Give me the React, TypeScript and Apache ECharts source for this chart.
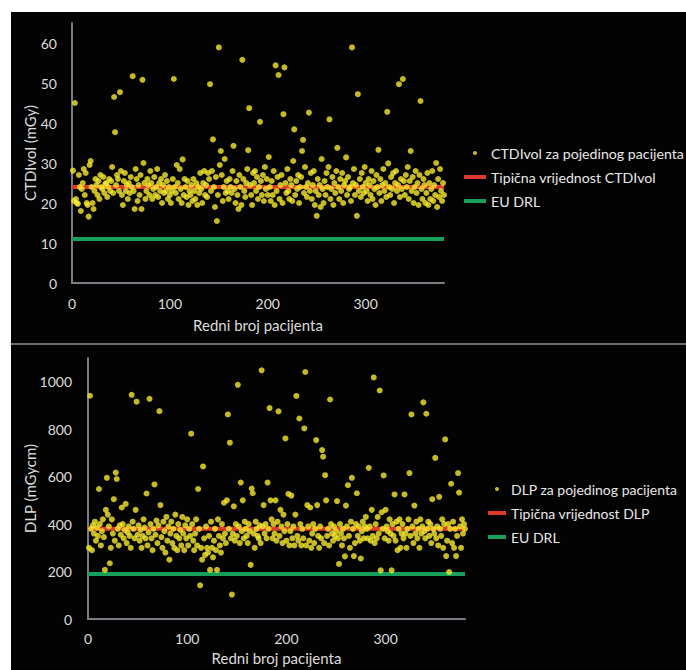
import React, { useEffect, useRef } from "react";
import * as echarts from "echarts";

// CTDIvol per patient (mGy), patient 1..380
const ctdiValues = [
  28.1, 20.5, 45, 21, 20, 19.8, 27, 24, 18, 23.5, 25, 28.5, 22, 27.5, 20, 19.5, 16.6, 29.5, 30.5, 24,
  20, 18.5, 23, 26, 24.5, 22, 25.5, 21, 27, 24, 23.5, 26.5, 22.5, 24.8, 25, 21.5, 24, 26, 23, 25.5,
  29, 22.5, 46.5, 37.7, 24.5, 27, 26, 23, 47.7, 28, 22, 19.5, 25.5, 27.5, 23, 24.5, 21, 25, 22.5, 26.5,
  24, 51.7, 23, 18.5, 28.5, 26, 20.5, 24.5, 22, 27, 18.5, 50.8, 30, 25, 21, 23, 26, 24.5, 22, 28,
  25, 21, 23.5, 26.5, 22, 24, 28.5, 21.5, 25, 23, 26, 20, 24.5, 22.5, 27, 23, 25.5, 21, 24, 22,
  20, 23, 26, 51, 24, 22.5, 29.5, 25, 21, 28.5, 23.5, 20, 30.9, 22, 26, 24, 21.5, 25.5, 19.5, 23,
  22, 24.5, 20.5, 26, 23, 21, 25, 19.5, 24, 22.5, 27.5, 23.5, 20, 25, 28, 22, 24.5, 21.5, 27.5, 26,
  49.7, 23, 28, 35.9, 24, 19, 26.5, 15.5, 22, 58.9, 29.5, 33, 27, 20.5, 24, 31, 22.5, 25.5, 23, 21,
  26, 24, 22.5, 28, 34.3, 23.5, 20, 25.5, 22, 18.5, 27, 24, 19.5, 55.8, 26, 23, 21.5, 25, 28.5, 33.2,
  43.7, 24.5, 22, 19.5, 27.5, 25, 28, 23, 26.5, 21, 24, 40.3, 25.5, 22, 27, 20.5, 29, 23.5, 26, 22,
  31.5, 24, 20.5, 25.5, 22, 28, 19.5, 54.4, 23, 26.5, 52, 21, 24.5, 27, 20, 42.2, 53.9, 25, 22.5, 28.5,
  23, 21, 26, 24.5, 20.5, 30.5, 38.4, 22, 25.5, 23.5, 27, 20, 24, 26.5, 33, 35.8, 22.5, 29, 24, 21.5,
  25, 42.6, 23, 27.5, 21, 24.5, 28, 19.5, 23, 16.8, 26, 22, 24.5, 19, 31, 23.5, 20, 25.5, 22, 27.5,
  24, 29, 40.9, 21, 23.5, 26.5, 19.5, 25, 22.5, 28, 33.8, 24, 21, 26, 23, 27.5, 20, 24.5, 25.5, 31.4,
  22, 26.5, 23.5, 24, 20.5, 58.9, 25, 28.5, 22, 24.5, 16.8, 47.2, 23, 26, 21.5, 27.5, 24, 22.5, 29, 25,
  23, 20.5, 26, 24.5, 22, 28, 21, 25.5, 23.5, 19.5, 27, 24, 33.3, 22.5, 26, 20.5, 24.5, 28.5, 23, 25,
  21.5, 42.8, 29.9, 24, 22, 26.5, 23.5, 27.5, 20, 25, 28, 23, 24.5, 49.7, 21.5, 26, 23.5, 51, 25.5, 22,
  27, 24, 29, 21, 25.5, 33, 23, 26.5, 20, 24, 28, 22.5, 25, 19.5, 27, 45.5, 23.5, 21, 26, 24.5,
  20, 22.5, 27.5, 19.5, 25, 21, 23.5, 28, 20.5, 24.5, 22, 30, 19, 26, 21.5, 28.5, 23, 20.5, 25, 22,
];

// DLP per patient (mGycm), patient 1..380
const dlpValues = [
  300, 941, 380, 290, 395, 360, 410, 330, 385, 350, 548, 400, 310, 370, 420, 345, 207, 460, 595, 440,
  390, 235, 300, 420, 360, 505, 330, 617, 590, 380, 310, 395, 355, 470, 400, 340, 375, 485, 320, 365,
  390, 350, 300, 945, 410, 380, 340, 460, 916, 355, 395, 330, 375, 300, 350, 420, 385, 340, 529, 310,
  365, 928, 400, 340, 290, 380, 567, 355, 415, 320, 395, 876, 480, 345, 300, 410, 370, 280, 430, 330,
  390, 250, 360, 410, 320, 380, 300, 440, 350, 290, 400, 340, 375, 310, 430, 360, 290, 395, 340, 420,
  310, 380, 350, 781, 400, 330, 290, 360, 420, 310, 548, 380, 142, 300, 250, 643, 340, 270, 390, 300,
  280, 350, 207, 410, 300, 260, 330, 380, 290, 207, 420, 350, 310, 280, 400, 340, 490, 360, 320, 500,
  862, 380, 743, 340, 103, 360, 475, 330, 400, 350, 987, 390, 320, 575, 370, 500, 340, 410, 380, 350,
  320, 400, 370, 228, 550, 530, 360, 300, 410, 380, 350, 340, 395, 320, 1048, 390, 480, 360, 400, 340,
  575, 380, 889, 500, 420, 340, 400, 360, 500, 330, 410, 875, 350, 460, 390, 320, 440, 370, 761, 330,
  400, 527, 310, 370, 520, 340, 390, 310, 440, 940, 350, 330, 845, 400, 310, 380, 340, 803, 1041, 310,
  480, 390, 330, 470, 300, 360, 400, 320, 380, 754, 480, 350, 300, 390, 340, 712, 684, 320, 606, 500,
  350, 380, 310, 925, 400, 360, 330, 390, 350, 370, 497, 340, 232, 400, 360, 310, 380, 340, 264, 478,
  390, 564, 350, 300, 410, 595, 380, 265, 320, 400, 530, 350, 390, 330, 255, 370, 410, 340, 390, 430,
  380, 340, 637, 390, 330, 460, 350, 1018, 320, 400, 340, 430, 360, 963, 205, 450, 380, 605, 340, 460,
  390, 370, 330, 420, 360, 205, 400, 350, 525, 330, 410, 290, 380, 420, 300, 360, 400, 340, 525, 360,
  300, 380, 420, 615, 350, 862, 390, 320, 478, 360, 410, 340, 380, 300, 420, 360, 390, 913, 370, 340,
  865, 380, 410, 350, 400, 320, 505, 380, 360, 679, 340, 390, 310, 515, 380, 350, 420, 300, 400, 757,
  265, 330, 400, 198, 380, 570, 320, 410, 300, 380, 265, 350, 615, 533, 390, 300, 420, 360, 400, 380,
];

const ctdiTypical = 24;
const ctdiEuDrl = 11;
const dlpTypical = 380;
const dlpEuDrl = 190;
const xRange = [0, 380];

const ctdiNames = ["CTDIvol za pojedinog pacijenta", "Tipična vrijednost CTDIvol", "EU DRL"];
const dlpNames = ["DLP za pojedinog pacijenta", "Tipična vrijednost DLP", "EU DRL"];
const xAxisTitle = "Redni broj pacijenta";
const ctdiAxisTitle = "CTDIvol (mGy)";
const dlpAxisTitle = "DLP (mGycm)";

const YELLOW = "#f7ea2e";
const RED = "#dd3a2c";
const GREEN = "#16a05a";
const AXIS = "#7a7d84";
const TXT = "#dcdcdc";
const FONT = "Lato";

export default function App() {
  const ref = useRef<HTMLDivElement>(null);
  useEffect(() => {
    if (!ref.current) return;
    const chart = echarts.init(ref.current, null, { renderer: "svg" });

    const xAxisBase = (gridIndex: number, nameGap: number, margin: number) => ({
      type: "value",
      gridIndex,
      min: xRange[0],
      max: xRange[1],
      interval: 100,
      name: xAxisTitle,
      nameLocation: "middle",
      nameGap,
      nameMoveOverlap: false,
      nameTextStyle: { color: TXT, fontSize: 15, fontFamily: FONT },
      axisLine: { show: true, lineStyle: { color: AXIS, width: 2 } },
      axisTick: { show: false },
      splitLine: { show: false },
      axisLabel: {
        color: TXT, fontSize: 14, fontFamily: FONT, margin, showMaxLabel: false,
        formatter: (v: number) => String(v),
      },
    });
    const yAxisBase = (gridIndex: number, name: string, max: number, interval: number, nameGap: number, margin: number) => ({
      type: "value",
      gridIndex,
      min: 0,
      max,
      interval,
      name,
      nameLocation: "middle",
      nameGap,
      nameMoveOverlap: false,
      nameTextStyle: { color: TXT, fontSize: 15, fontFamily: FONT },
      axisLine: { show: true, lineStyle: { color: AXIS, width: 2 } },
      axisTick: { show: false },
      splitLine: { show: false },
      axisLabel: {
        color: TXT, fontSize: 14, fontFamily: FONT, margin, showMaxLabel: false,
        formatter: (v: number) => String(v),
      },
    });

    const legendBase = (names: string[], left: number, top: number, itemWidth: number, fontSize: number) => ({
      orient: "vertical",
      left,
      top,
      padding: 0,
      itemWidth,
      itemHeight: 4,
      itemGap: 8,
      textStyle: { color: "#e8e8e8", fontSize, fontFamily: FONT, lineHeight: 16 },
      data: [
        { name: names[0], icon: "circle" },
        { name: names[1], icon: "rect" },
        { name: names[2], icon: "rect" },
      ],
    });

    chart.setOption({
      animation: false,
      backgroundColor: "#ffffff",
      graphic: [
        { type: "rect", shape: { x: 11, y: 12, width: 675, height: 658 }, style: { fill: "#030303" }, z: -10 },
        { type: "line", shape: { x1: 11, y1: 344, x2: 686, y2: 344 }, style: { stroke: "#6b6e74", lineWidth: 2 }, z: -5 },
      ],
      grid: [
        { left: 72, top: 23, width: 372, height: 260 },
        { left: 88, top: 358, width: 377, height: 261 },
      ],
      xAxis: [xAxisBase(0, 34, 13), xAxisBase(1, 31, 12)],
      yAxis: [
        yAxisBase(0, ctdiAxisTitle, 65, 10, 35, 15),
        yAxisBase(1, dlpAxisTitle, 1100, 200, 51, 16),
      ],
      legend: [
        legendBase(ctdiNames, 464, 145, 22, 14.2),
        legendBase(dlpNames, 488, 481, 18, 14),
      ],
      series: [
        {
          name: ctdiNames[1],
          type: "line",
          xAxisIndex: 0,
          yAxisIndex: 0,
          data: [[xRange[0], ctdiTypical], [xRange[1], ctdiTypical]],
          symbol: "none",
          lineStyle: { color: RED, width: 4 },
          itemStyle: { color: RED },
          z: 2,
        },
        {
          name: ctdiNames[2],
          type: "line",
          xAxisIndex: 0,
          yAxisIndex: 0,
          data: [[xRange[0], ctdiEuDrl], [xRange[1], ctdiEuDrl]],
          symbol: "none",
          lineStyle: { color: GREEN, width: 4 },
          itemStyle: { color: GREEN },
          z: 2,
        },
        {
          name: ctdiNames[0],
          type: "scatter",
          xAxisIndex: 0,
          yAxisIndex: 0,
          data: ctdiValues.map((v, i) => [i + 1, v]),
          symbolSize: 6,
          itemStyle: { color: YELLOW },
          z: 3,
        },
        {
          name: dlpNames[1],
          type: "line",
          xAxisIndex: 1,
          yAxisIndex: 1,
          data: [[xRange[0], dlpTypical], [xRange[1], dlpTypical]],
          symbol: "none",
          lineStyle: { color: RED, width: 4 },
          itemStyle: { color: RED },
          z: 2,
        },
        {
          name: dlpNames[2],
          type: "line",
          xAxisIndex: 1,
          yAxisIndex: 1,
          data: [[xRange[0], dlpEuDrl], [xRange[1], dlpEuDrl]],
          symbol: "none",
          lineStyle: { color: GREEN, width: 4 },
          itemStyle: { color: GREEN },
          z: 2,
        },
        {
          name: dlpNames[0],
          type: "scatter",
          xAxisIndex: 1,
          yAxisIndex: 1,
          data: dlpValues.map((v, i) => [i + 1, v]),
          symbolSize: 6,
          itemStyle: { color: YELLOW },
          z: 3,
        },
      ],
    });
    return () => chart.dispose();
  }, []);

  return (
    <div
      ref={ref}
      style={{ position: "fixed", left: 0, top: 0, width: 686, height: 670, background: "#fff" }}
    />
  );
}
